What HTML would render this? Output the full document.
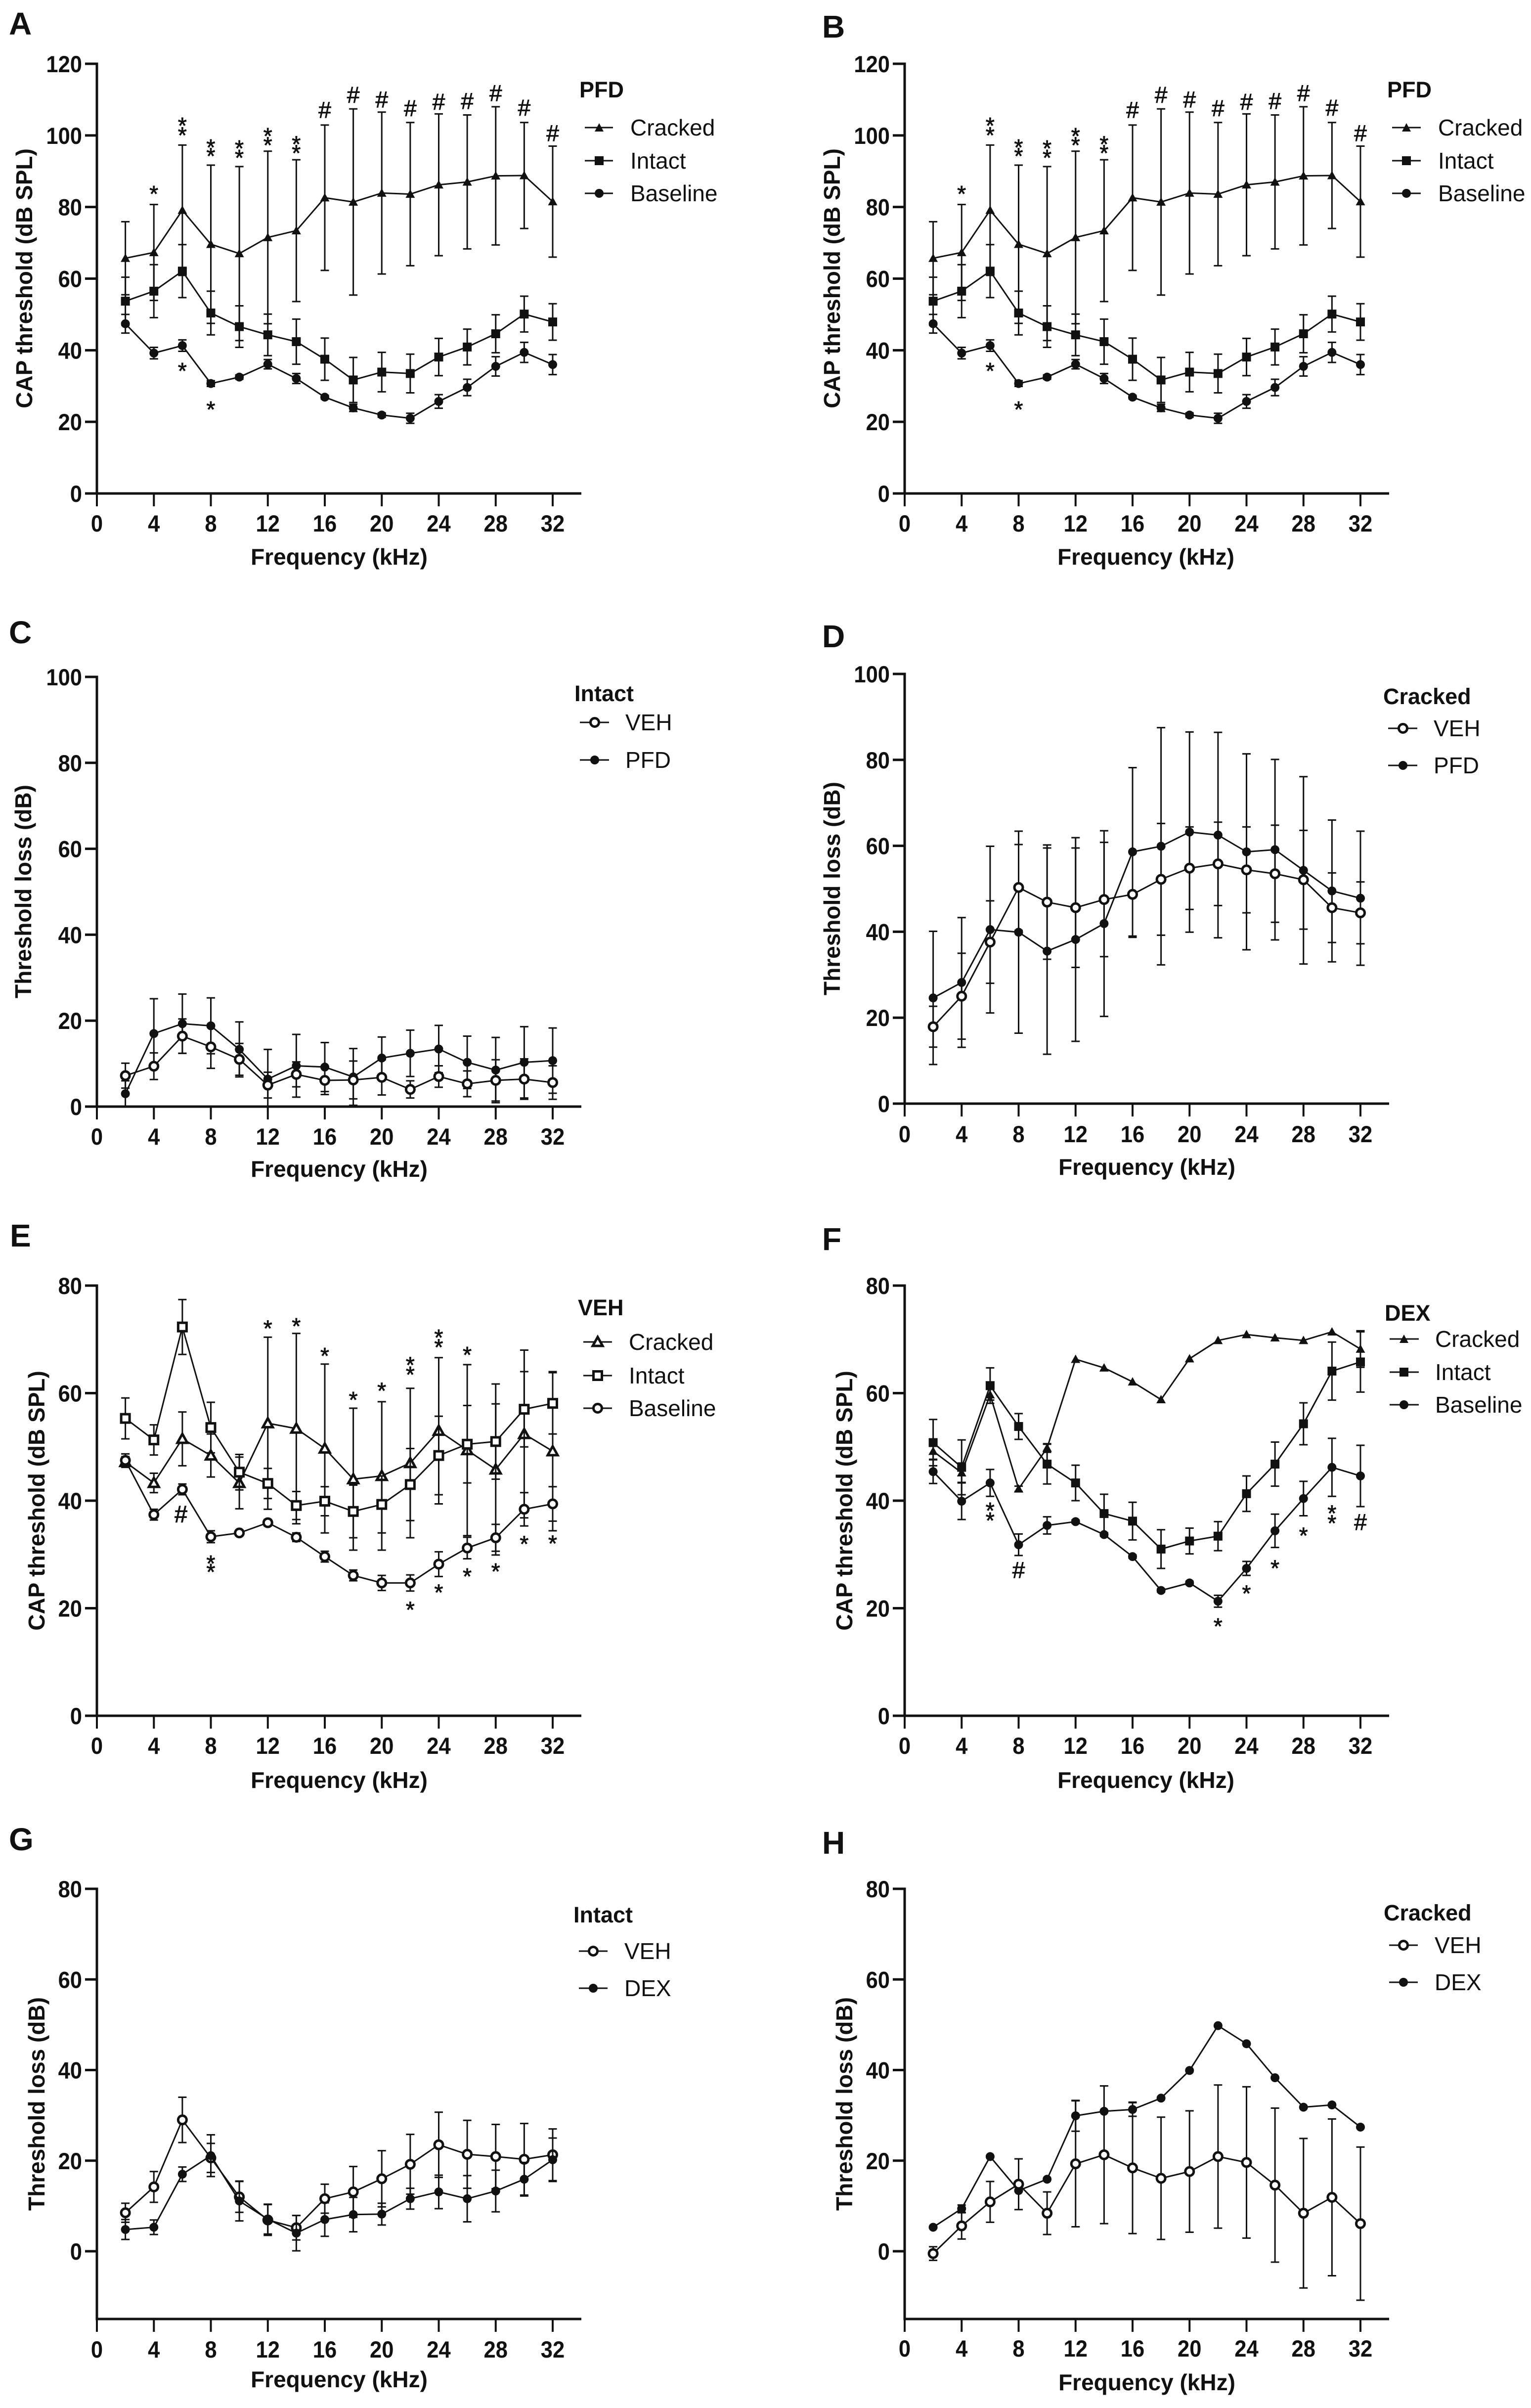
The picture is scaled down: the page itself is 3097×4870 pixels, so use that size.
<!DOCTYPE html>
<html lang="en">
<head>
<meta charset="utf-8">
<title>CAP threshold and threshold loss panels</title>
<style>
html,body{margin:0;padding:0;background:#fff;}
svg{display:block;}
text{font-family:"Liberation Sans",sans-serif;fill:#111;}
.letter{font-size:64px;font-weight:700;}
.atitle{font-size:46px;font-weight:700;text-anchor:middle;}
.ltitle{font-size:45px;font-weight:700;}
.ltext{font-size:46px;}
.ll{stroke:#111;stroke-width:3;}
.mk{fill:#111;stroke:none;}
.op{fill:#fff;stroke:#111;stroke-width:5;}
</style>
</head>
<body>
<svg id="figure" xmlns="http://www.w3.org/2000/svg" width="3097" height="4870" viewBox="0 0 3097 4870">
<rect x="0" y="0" width="3097" height="4870" fill="#fff"/>

<g id="panel-A">
<text class="letter" x="18" y="70">A</text>
<text class="atitle" transform="translate(65,563) rotate(-90)">CAP threshold (dB SPL)</text>
<text class="atitle" x="686" y="1142">Frequency (kHz)</text>
<g>
<text class="ltitle" x="1172" y="197">PFD</text>
<line class="ll" x1="1183" x2="1240" y1="258" y2="258"/><polygon class="mk" points="1212,249 1221,266 1203,266"/><text class="ltext" x="1275" y="274">Cracked</text>
<line class="ll" x1="1183" x2="1240" y1="325" y2="325"/><rect class="mk" x="1203" y="316" width="18" height="18"/><text class="ltext" x="1275" y="341">Intact</text>
<line class="ll" x1="1183" x2="1240" y1="391" y2="391"/><circle class="mk" cx="1212" cy="391" r="9"/><text class="ltext" x="1275" y="407">Baseline</text>
</g>
</g>

<g id="panel-B">
<text class="letter" x="1663" y="76">B</text>
<text class="atitle" transform="translate(1699,563) rotate(-90)">CAP threshold (dB SPL)</text>
<text class="atitle" x="2318" y="1142">Frequency (kHz)</text>
<g>
<text class="ltitle" x="2806" y="197">PFD</text>
<line class="ll" x1="2816" x2="2874" y1="258" y2="258"/><polygon class="mk" points="2845,249 2854,266 2836,266"/><text class="ltext" x="2909" y="274">Cracked</text>
<line class="ll" x1="2816" x2="2874" y1="325" y2="325"/><rect class="mk" x="2836" y="316" width="18" height="18"/><text class="ltext" x="2909" y="341">Intact</text>
<line class="ll" x1="2816" x2="2874" y1="391" y2="391"/><circle class="mk" cx="2845" cy="391" r="9"/><text class="ltext" x="2909" y="407">Baseline</text>
</g>
</g>

<g id="panel-C">
<text class="letter" x="18" y="1301">C</text>
<text class="atitle" transform="translate(63,1803) rotate(-90)">Threshold loss (dB)</text>
<text class="atitle" x="686" y="2380">Frequency (kHz)</text>
<g>
<text class="ltitle" x="1162" y="1418">Intact</text>
<line class="ll" x1="1173" x2="1232" y1="1461" y2="1461"/><circle class="op" cx="1203" cy="1461" r="8.5"/><text class="ltext" x="1265" y="1477">VEH</text>
<line class="ll" x1="1173" x2="1232" y1="1537" y2="1537"/><circle class="mk" cx="1203" cy="1537" r="9"/><text class="ltext" x="1265" y="1553">PFD</text>
</g>
</g>

<g id="panel-D">
<text class="letter" x="1663" y="1309">D</text>
<text class="atitle" transform="translate(1699,1797) rotate(-90)">Threshold loss (dB)</text>
<text class="atitle" x="2320" y="2376">Frequency (kHz)</text>
<g>
<text class="ltitle" x="2798" y="1424">Cracked</text>
<line class="ll" x1="2808" x2="2867" y1="1473" y2="1473"/><circle class="op" cx="2838" cy="1473" r="8.5"/><text class="ltext" x="2900" y="1489">VEH</text>
<line class="ll" x1="2808" x2="2867" y1="1548" y2="1548"/><circle class="mk" cx="2838" cy="1548" r="9"/><text class="ltext" x="2900" y="1564">PFD</text>
</g>
</g>

<g id="panel-E">
<text class="letter" x="20" y="2521">E</text>
<text class="atitle" transform="translate(90,3035) rotate(-90)">CAP threshold (dB SPL)</text>
<text class="atitle" x="686" y="3616">Frequency (kHz)</text>
<g>
<text class="ltitle" x="1169" y="2660">VEH</text>
<line class="ll" x1="1180" x2="1238" y1="2714" y2="2714"/><polygon class="op" points="1209,2704 1219,2722 1199,2722"/><text class="ltext" x="1272" y="2730">Cracked</text>
<line class="ll" x1="1180" x2="1238" y1="2782" y2="2782"/><rect class="op" x="1200.5" y="2773.5" width="17" height="17"/><text class="ltext" x="1272" y="2798">Intact</text>
<line class="ll" x1="1180" x2="1238" y1="2848" y2="2848"/><circle class="op" cx="1209" cy="2848" r="8.5"/><text class="ltext" x="1272" y="2864">Baseline</text>
</g>
</g>

<g id="panel-F">
<text class="letter" x="1663" y="2528">F</text>
<text class="atitle" transform="translate(1724,3035) rotate(-90)">CAP threshold (dB SPL)</text>
<text class="atitle" x="2318" y="3616">Frequency (kHz)</text>
<g>
<text class="ltitle" x="2801" y="2671">DEX</text>
<line class="ll" x1="2811" x2="2870" y1="2708" y2="2708"/><polygon class="mk" points="2840,2699 2849,2716 2831,2716"/><text class="ltext" x="2903" y="2724">Cracked</text>
<line class="ll" x1="2811" x2="2870" y1="2775" y2="2775"/><rect class="mk" x="2831" y="2766" width="18" height="18"/><text class="ltext" x="2903" y="2791">Intact</text>
<line class="ll" x1="2811" x2="2870" y1="2841" y2="2841"/><circle class="mk" cx="2840" cy="2841" r="9"/><text class="ltext" x="2903" y="2857">Baseline</text>
</g>
</g>

<g id="panel-G">
<text class="letter" x="18" y="3742">G</text>
<text class="atitle" transform="translate(90,4255) rotate(-90)">Threshold loss (dB)</text>
<text class="atitle" x="686" y="4828">Frequency (kHz)</text>
<g>
<text class="ltitle" x="1160" y="3888">Intact</text>
<line class="ll" x1="1171" x2="1229" y1="3946" y2="3946"/><circle class="op" cx="1200" cy="3946" r="8.5"/><text class="ltext" x="1263" y="3962">VEH</text>
<line class="ll" x1="1171" x2="1229" y1="4021" y2="4021"/><circle class="mk" cx="1200" cy="4021" r="9"/><text class="ltext" x="1263" y="4037">DEX</text>
</g>
</g>

<g id="panel-H">
<text class="letter" x="1663" y="3749">H</text>
<text class="atitle" transform="translate(1724,4255) rotate(-90)">Threshold loss (dB)</text>
<text class="atitle" x="2320" y="4834">Frequency (kHz)</text>
<g>
<text class="ltitle" x="2799" y="3884">Cracked</text>
<line class="ll" x1="2810" x2="2868" y1="3934" y2="3934"/><circle class="op" cx="2839" cy="3934" r="8.5"/><text class="ltext" x="2902" y="3950">VEH</text>
<line class="ll" x1="2810" x2="2868" y1="4009" y2="4009"/><circle class="mk" cx="2839" cy="4009" r="9"/><text class="ltext" x="2902" y="4025">DEX</text>
</g>
</g>
</svg>

<script>
const frequencies = [2,4,6,8,10,12,14,16,18,20,22,24,26,28,30,32];
const xTickLabels = [0,4,8,12,16,20,24,28,32];
const yTicks120 = [0,20,40,60,80,100,120];
const yTicks100 = [0,20,40,60,80,100];
const yTicks80 = [0,20,40,60,80];

// Panels A and B
const pfdCrackedMean = [65.7,67.3,79.1,69.6,67,71.5,73.4,82.6,81.4,83.9,83.6,86.2,87,88.7,88.8,81.5];
const pfdCrackedErr = [10.2,13.4,18.2,22.1,24.3,24.1,19.8,20.3,26,22.6,20,19.8,18.7,19.3,14.8,15.5];
const pfdIntactMean = [53.7,56.5,62.1,50.4,46.6,44.3,42.4,37.5,31.7,33.9,33.5,38.1,40.9,44.6,50.1,47.9];
const pfdIntactErr = [6.7,7.4,7.4,6.1,5.8,5.8,6.3,5.9,6.3,5.5,5.4,5.2,5,5.3,5,5.1];
const pfdBaselineMean = [47.4,39.2,41.3,30.7,32.5,36.1,32.1,26.9,23.9,21.9,21,25.7,29.6,35.5,39.4,36];
const pfdBaselineErr = [2.6,1.6,1.6,0.8,0.6,1.3,1.4,0.5,1,0.6,1.4,1.9,2.3,2.7,2.8,2.8];
const pfdMarks = [[4,85.1,'*'],[6,104.2,'*'],[6,101.5,'*'],[8,98.1,'*'],[8,95.7,'*'],[10,97.8,'*'],[10,95.2,'*'],[12,101.3,'*'],[12,98.7,'*'],[14,99,'*'],[14,96.5,'*'],[16,107.1,'#'],[18,111.3,'#'],[20,110,'#'],[22,107.6,'#'],[24,109.4,'#'],[26,109.6,'#'],[28,111.8,'#'],[30,107.7,'#'],[32,100.6,'#'],[6,35.7,'*'],[8,24.9,'*']];

// Panel C
const cVehMean = [7.2,9.4,16.4,13.9,11,5,7.5,6.1,6.2,6.8,4,7,5.3,6.1,6.4,5.6];
const cVehErr = [2.9,3.1,4,5,3.7,3,2.9,3.3,4.4,4.1,2,2.5,3,4.8,4.7,3.9];
const cPfdMean = [3,17,19.3,18.8,13.3,6.4,9.5,9.2,6.9,11.3,12.4,13.4,10.3,8.5,10.3,10.7];
const cPfdErr = [3,8.1,6.9,6.5,6.4,6.9,7.3,5.7,6.6,4.9,5.4,5.5,6.1,7.6,8.3,7.6];

// Panel D
const dVehMean = [17.9,25,37.6,50.3,46.9,45.6,47.5,48.7,52.2,54.8,55.8,54.4,53.5,52.1,45.6,44.4];
const dVehErr = [4.75,10,9.6,10,13.3,13.9,13.3,10,13,9.6,9.7,10,11.3,11.5,8.1,7.2];
const dPfdMean = [24.6,28.2,40.5,39.9,35.5,38.2,41.9,58.6,59.9,63.2,62.5,58.6,59.1,54.3,49.5,47.8];
const dPfdErr = [15.5,15.1,19.4,23.5,24,23.7,21.6,19.6,27.6,23.3,23.9,22.8,21,21.8,16.5,15.6];

// Panel E
const eCrackedMean = [47.2,43.3,51.5,48.4,43.3,54.4,53.4,49.7,44,44.6,47,53,49.4,45.8,52.4,49.2];
const eCrackedErr = [1,1.8,5,4,4.8,16,17.7,15.7,13.2,13.8,13.9,13.6,15.9,15.9,15.6,14.8];
const eIntactMean = [55.3,51.3,72.3,53.6,45.3,43.2,39.1,39.9,38,39.3,43,48.4,50.5,51,57,58.1];
const eIntactErr = [3.8,2.8,5.1,4.7,3.3,2.8,2.6,2.7,4.9,5.3,6.7,7.3,7.2,7,7,5.7];
const eBaselineMean = [47.5,37.4,42.1,33.3,34,35.9,33.2,29.6,26.1,24.7,24.7,28.2,31.2,33.1,38.4,39.4];
const eBaselineErr = [1.2,1,1,1.1,0.5,0.6,0.8,1,1,1.4,1.5,2.3,2,2.5,3.1,3.2];
const eMarks = [[12,73,'*'],[14,73.4,'*'],[16,67.9,'*'],[18,59.7,'*'],[20,61.4,'*'],[22,66.2,'*'],[22,64.4,'*'],[24,71.3,'*'],[24,69.5,'*'],[26,68.1,'*'],[8,29.3,'*'],[8,27.7,'*'],[22,20.7,'*'],[24,23.9,'*'],[26,26.9,'*'],[28,27.8,'*'],[30,32.9,'*'],[32,33,'*'],[5.9,37.5,'#']];

// Panel F
const fCrackedMean = [49.2,45.2,59.7,42.2,49.8,66.3,64.7,62.1,58.8,66.4,69.8,70.9,70.3,69.8,71.4,68.2];
const fCrackedErr = [1.5,1.8,1,0.5,0.8,0,0,0,0,0,0,0,0,0,0,3.4];
const fIntactMean = [50.8,46.2,61.4,53.8,46.8,43.3,37.6,36.2,31,32.5,33.4,41.3,46.8,54.3,64.1,65.8];
const fIntactErr = [4.3,5.1,3.3,2.4,3.7,3.3,3.6,3.5,3.6,2.4,2.7,3.3,4.1,3.9,5.4,5.6];
const fBaselineMean = [45.4,39.9,43.3,31.8,35.4,36.1,33.7,29.6,23.3,24.7,21.3,27.4,34.4,40.4,46.2,44.6];
const fBaselineErr = [2.2,3.4,2.5,2,1.6,0.3,0.3,0.3,0.3,0.3,1.1,1.3,3.1,3.2,5.4,5.7];
const fMarks = [[6,39.1,'*'],[6,37.3,'*'],[8,27.1,'#'],[22,17.6,'*'],[24,23.7,'*'],[26,28.4,'*'],[28,34.5,'*'],[30,38.6,'*'],[30,36.8,'*'],[32,36,'#']];

// Panel G
const gVehMean = [8.5,14.2,29,20.6,12,6.9,5.2,11.6,13.1,16,19.2,23.5,21.4,20.9,20.3,21.3];
const gVehErr = [2.1,3.4,5,3.2,3.4,3.4,2.7,3.2,5.6,6.2,6.6,7.2,7.5,7.1,7.9,5.7];
const gDexMean = [4.8,5.3,17,21.1,11.1,7.1,4,7,8.1,8.2,11.6,13.1,11.6,13.3,15.9,20.2];
const gDexErr = [2.2,1.6,1.6,4.6,4.4,3.3,3.9,3.7,3.8,2.4,2.3,3.7,5.1,4.6,3.7,4.8];

// Panel H
const hVehMean = [-0.5,5.6,10.9,14.8,8.4,19.3,21.3,18.4,16.1,17.6,20.9,19.6,14.6,8.4,11.9,6.1];
const hVehErr = [1.5,2.9,4.5,5.6,4.7,13.9,15.2,14.5,13.5,13.4,15.8,16.7,17,16.5,17.3,16.9];
const hDexMean = [5.3,9.4,20.9,13.4,15.9,29.9,30.9,31.3,33.8,39.9,49.8,45.8,38.3,31.8,32.3,27.4];
const hDexErr = [0,0.8,0,0,0,3.4,0,1.5,0,0,0,0,0,0,0,0];

const SVGNS = 'http://www.w3.org/2000/svg';
const INK = '#111';

function make(tag, parent, attrs, name) {
  const el = document.createElementNS(SVGNS, tag);
  for (const key in attrs) el.setAttribute(key, attrs[key]);
  
  
  parent.appendChild(el);
  return el;
}

function drawMarker(parent, shape, open, cx, cy, name) {
  const fill = open ? '#fff' : INK;
  const stroke = open ? INK : 'none';
  const sw = open ? 5 : 0;
  const common = {fill: fill, stroke: stroke, 'stroke-width': sw};
  if (shape === 'circle') {
    make('circle', parent, Object.assign({cx: cx, cy: cy, r: open ? 8.5 : 9}, common), name);
  } else if (shape === 'square') {
    const side = open ? 17 : 18;
    make('rect', parent, Object.assign({x: cx - side / 2, y: cy - side / 2, width: side, height: side}, common), name);
  } else {
    const a = open ? 10 : 9.5;
    const pts = cx + ',' + (cy - a) + ' ' + (cx + a) + ',' + (cy + a - 2) + ' ' + (cx - a) + ',' + (cy + a - 2);
    make('polygon', parent, Object.assign({points: pts}, common), name);
  }
}

function drawPanel(cfg) {
  const root = document.getElementById('panel-' + cfg.id);
  const tag = cfg.id.toLowerCase();
  const axisBottom = cfg.axisBottom === undefined ? cfg.zeroY : cfg.axisBottom;
  const xOf = function (k) { return cfg.x0 + k * (922 / 32); };
  const yOf = function (v) { return cfg.zeroY - v * (cfg.zeroY - cfg.topY) / cfg.yMax; };

  const axes = make('g', root, {}, 'axes-' + tag);
  make('line', axes, {x1: cfg.x0, x2: cfg.x0, y1: cfg.topY - 2.5, y2: axisBottom + 2.5, stroke: INK, 'stroke-width': 5}, 'y-axis-' + tag);
  make('line', axes, {x1: cfg.x0 - 2.5, x2: cfg.x0 + 980, y1: axisBottom, y2: axisBottom, stroke: INK, 'stroke-width': 5}, 'x-axis-' + tag);

  cfg.yTicks.forEach(function (v) {
    const y = yOf(v);
    make('line', axes, {x1: cfg.x0 - 24, x2: cfg.x0, y1: y, y2: y, stroke: INK, 'stroke-width': 5}, 'y-tick-' + tag + '-' + v);
    const t = make('text', axes, {x: cfg.x0 - 30, y: y + 17, 'font-size': 47, 'font-weight': 700, 'text-anchor': 'end', textLength: String(v).length * 24.2, lengthAdjust: 'spacingAndGlyphs'}, 'y-tick-label-' + tag + '-' + v);
    t.textContent = v;
  });
  xTickLabels.forEach(function (k) {
    const x = xOf(k);
    make('line', axes, {x1: x, x2: x, y1: axisBottom, y2: axisBottom + 26, stroke: INK, 'stroke-width': 4}, 'x-tick-' + tag + '-' + k);
    const t = make('text', axes, {x: x, y: axisBottom + cfg.xLabelOffset + 17, 'font-size': 47, 'font-weight': 700, 'text-anchor': 'middle', textLength: String(k).length * 24.2, lengthAdjust: 'spacingAndGlyphs'}, 'x-tick-label-' + tag + '-' + k);
    t.textContent = k;
  });

  const yFloor = cfg.zeroY === axisBottom ? 0 : (cfg.zeroY - axisBottom) / ((cfg.zeroY - cfg.topY) / cfg.yMax);

  cfg.series.forEach(function (s) {
    const sName = tag + '-' + s.name;
    const g = make('g', root, {}, 'series-' + sName);
    frequencies.forEach(function (k, i) {
      const e = s.err[i];
      if (!e) return;
      const x = xOf(k);
      const hi = yOf(s.mean[i] + e);
      const rawLow = s.mean[i] - e;
      const lo = yOf(Math.max(rawLow, yFloor));
      make('line', g, {x1: x, x2: x, y1: hi, y2: lo, stroke: INK, 'stroke-width': 3}, 'error-bar-' + sName + '-' + k);
      make('line', g, {x1: x - 8.5, x2: x + 8.5, y1: hi, y2: hi, stroke: INK, 'stroke-width': 3}, 'error-cap-upper-' + sName + '-' + k);
      if (rawLow > yFloor) {
        make('line', g, {x1: x - 8.5, x2: x + 8.5, y1: lo, y2: lo, stroke: INK, 'stroke-width': 3}, 'error-cap-lower-' + sName + '-' + k);
      }
    });
    const pts = frequencies.map(function (k, i) { return xOf(k) + ',' + yOf(s.mean[i]); }).join(' ');
    make('polyline', g, {points: pts, fill: 'none', stroke: INK, 'stroke-width': 3, 'stroke-linejoin': 'round'}, 'line-' + sName);
    s.g = g;
    s.sName = sName;
  });
  cfg.series.forEach(function (s) {
    frequencies.forEach(function (k, i) {
      drawMarker(s.g, s.shape, s.open, xOf(k), yOf(s.mean[i]), 'point-' + s.sName + '-' + k);
    });
  });

  (cfg.marks || []).forEach(function (m, i) {
    const isHash = m[2] === '#';
    const big = isHash && cfg.boldHash;
    const size = big ? 50 : 46;
    const shift = isHash ? size * 0.35 : size * 0.575;
    const t = make('text', root, {x: xOf(m[0]), y: yOf(m[1]) + shift, 'font-size': size, 'font-weight': big ? 700 : 400, 'text-anchor': 'middle', stroke: big ? 'none' : INK, 'stroke-width': big ? 0 : 0.9}, 'significance-mark-' + tag + '-' + i);
    t.textContent = m[2];
  });
}

const LEFT_X0 = 196;
const RIGHT_X0 = 1830;

function pfdSeries() {
  return [
    {name: 'baseline', mean: pfdBaselineMean, err: pfdBaselineErr, shape: 'circle', open: false},
    {name: 'intact', mean: pfdIntactMean, err: pfdIntactErr, shape: 'square', open: false},
    {name: 'cracked', mean: pfdCrackedMean, err: pfdCrackedErr, shape: 'triangle', open: false}
  ];
}

drawPanel({id: 'A', x0: LEFT_X0, zeroY: 998, topY: 129, yMax: 120, yTicks: yTicks120, xLabelOffset: 60, series: pfdSeries(), marks: pfdMarks});
drawPanel({id: 'B', x0: RIGHT_X0, zeroY: 998, topY: 129, yMax: 120, yTicks: yTicks120, xLabelOffset: 60, series: pfdSeries(), marks: pfdMarks});
drawPanel({id: 'C', x0: LEFT_X0, zeroY: 2238, topY: 1369, yMax: 100, yTicks: yTicks100, xLabelOffset: 60, series: [
  {name: 'pfd', mean: cPfdMean, err: cPfdErr, shape: 'circle', open: false},
  {name: 'veh', mean: cVehMean, err: cVehErr, shape: 'circle', open: true}
]});
drawPanel({id: 'D', x0: RIGHT_X0, zeroY: 2232, topY: 1363, yMax: 100, yTicks: yTicks100, xLabelOffset: 61, series: [
  {name: 'pfd', mean: dPfdMean, err: dPfdErr, shape: 'circle', open: false},
  {name: 'veh', mean: dVehMean, err: dVehErr, shape: 'circle', open: true}
]});
drawPanel({id: 'E', x0: LEFT_X0, zeroY: 3470, topY: 2600, yMax: 80, yTicks: yTicks80, xLabelOffset: 60, boldHash: true, marks: eMarks, series: [
  {name: 'cracked', mean: eCrackedMean, err: eCrackedErr, shape: 'triangle', open: true},
  {name: 'intact', mean: eIntactMean, err: eIntactErr, shape: 'square', open: true},
  {name: 'baseline', mean: eBaselineMean, err: eBaselineErr, shape: 'circle', open: true}
]});
drawPanel({id: 'F', x0: RIGHT_X0, zeroY: 3470, topY: 2600, yMax: 80, yTicks: yTicks80, xLabelOffset: 60, marks: fMarks, series: [
  {name: 'cracked', mean: fCrackedMean, err: fCrackedErr, shape: 'triangle', open: false},
  {name: 'intact', mean: fIntactMean, err: fIntactErr, shape: 'square', open: false},
  {name: 'baseline', mean: fBaselineMean, err: fBaselineErr, shape: 'circle', open: false}
]});
drawPanel({id: 'G', x0: LEFT_X0, zeroY: 4553, topY: 3820, axisBottom: 4690, yMax: 80, yTicks: yTicks80, xLabelOffset: 61, series: [
  {name: 'veh', mean: gVehMean, err: gVehErr, shape: 'circle', open: true},
  {name: 'dex', mean: gDexMean, err: gDexErr, shape: 'circle', open: false}
]});
drawPanel({id: 'H', x0: RIGHT_X0, zeroY: 4553, topY: 3820, axisBottom: 4690, yMax: 80, yTicks: yTicks80, xLabelOffset: 59, series: [
  {name: 'dex', mean: hDexMean, err: hDexErr, shape: 'circle', open: false},
  {name: 'veh', mean: hVehMean, err: hVehErr, shape: 'circle', open: true}
]});
</script>
</body>
</html>
